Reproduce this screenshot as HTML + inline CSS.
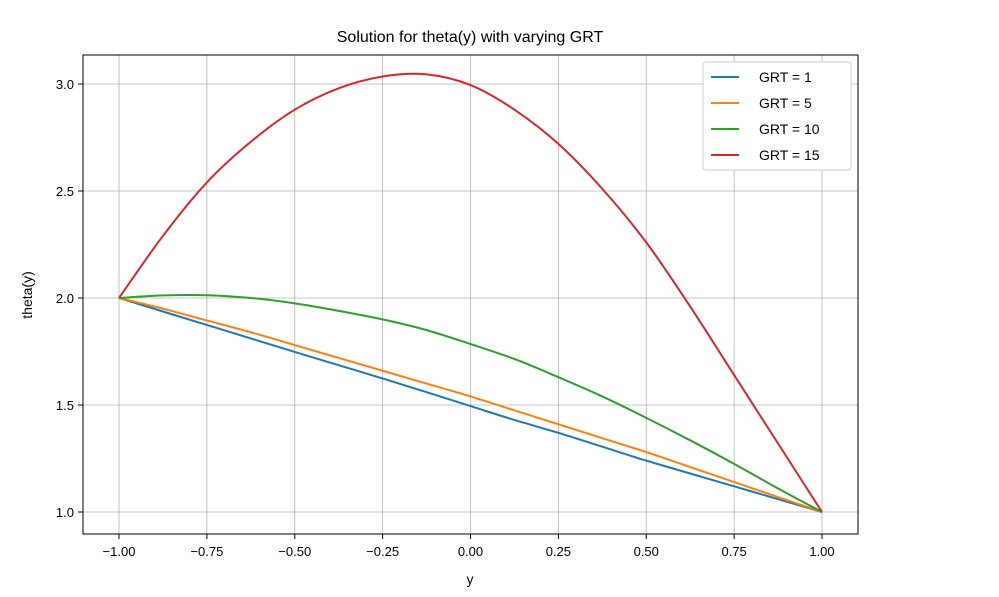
<!DOCTYPE html>
<html><head><meta charset="utf-8"><style>
body{margin:0;background:#fff}
svg text{font-family:"Liberation Sans",sans-serif;fill:#000}
</style></head><body>
<svg width="999" height="592" viewBox="0 0 999 592">
<g id="grid"></g>
<g id="series"></g>
<rect x="83" y="55" width="775" height="479" fill="none" stroke="#000" stroke-width="1"/>
<g id="ticks"></g>
<text x="470" y="42" font-size="16" text-anchor="middle">Solution for theta(y) with varying GRT</text>
<text x="470" y="584" font-size="14" text-anchor="middle">y</text>
<text x="32" y="295" font-size="14" text-anchor="middle" transform="rotate(-90 32 295)">theta(y)</text>
<g id="legend"></g>
</svg>
<script>
const xTicks=[-1,-0.75,-0.5,-0.25,0,0.25,0.5,0.75,1];
const xTickLabels=["−1.00","−0.75","−0.50","−0.25","0.00","0.25","0.50","0.75","1.00"];
const yTicks=[1,1.5,2,2.5,3];
const yTickLabels=["1.0","1.5","2.0","2.5","3.0"];
const seriesNames=["GRT = 1","GRT = 5","GRT = 10","GRT = 15"];
const seriesColors=["#1f77b4","#ff7f0e","#2ca02c","#d62728"];
const xs=[-1,-0.875,-0.75,-0.625,-0.5,-0.375,-0.25,-0.125,0,0.125,0.25,0.375,0.5,0.625,0.75,0.875,1];
const grt1=[2,1.937,1.874,1.811,1.748,1.686,1.624,1.56,1.495,1.43,1.37,1.305,1.24,1.18,1.12,1.06,1];
const grt5=[2,1.95,1.895,1.84,1.78,1.72,1.66,1.6,1.54,1.475,1.41,1.345,1.28,1.21,1.14,1.07,1];
const grt10=[2,2.012,2.013,2.0,1.975,1.94,1.9,1.85,1.785,1.715,1.63,1.54,1.44,1.335,1.225,1.11,1];
const grt15=[2,2.29,2.54,2.73,2.88,2.98,3.035,3.045,2.995,2.88,2.72,2.51,2.26,1.96,1.64,1.32,1];
const series=[grt1,grt5,grt10,grt15];
const X=v=>119+(v+1)*351.5, Y=v=>512-(v-1)*214;
const NS="http://www.w3.org/2000/svg";
function mk(t,a,p){const e=document.createElementNS(NS,t);for(const k in a)e.setAttribute(k,a[k]);p.appendChild(e);return e;}
const grid=document.getElementById('grid'),ticks=document.getElementById('ticks');
xTicks.forEach((v,i)=>{
 const g=mk('line',{x1:X(v),x2:X(v),y1:55,y2:534,stroke:'#b0b0b0','stroke-width':0.8},grid);
 
 const t=mk('line',{x1:X(v),x2:X(v),y1:534,y2:539,stroke:'#000'},ticks);
 
 const l=mk('text',{x:X(v),y:556,'font-size':13,'text-anchor':'middle'},ticks);l.textContent=xTickLabels[i];
 
});
yTicks.forEach((v,i)=>{
 const g=mk('line',{x1:83,x2:858,y1:Y(v),y2:Y(v),stroke:'#b0b0b0','stroke-width':0.8},grid);
 
 const t=mk('line',{x1:78,x2:83,y1:Y(v),y2:Y(v),stroke:'#000'},ticks);
 
 const l=mk('text',{x:74,y:Y(v)+5,'font-size':13,'text-anchor':'end'},ticks);l.textContent=yTickLabels[i];
 
});
function path(vals){
 const p=xs.map((x,i)=>[X(x),Y(vals[i])]);let d='M'+p[0][0]+','+p[0][1];
 for(let i=0;i<p.length-1;i++){const p0=p[i-1]||p[i],p1=p[i],p2=p[i+1],p3=p[i+2]||p[i+1];
  const c1=[p1[0]+(p2[0]-p0[0])/6,p1[1]+(p2[1]-p0[1])/6],c2=[p2[0]-(p3[0]-p1[0])/6,p2[1]-(p3[1]-p1[1])/6];
  d+=`C${c1[0]},${c1[1]} ${c2[0]},${c2[1]} ${p2[0]},${p2[1]}`;}
 return d;}
const sg=document.getElementById('series');
series.forEach((s,i)=>{const e=mk('path',{d:path(s),fill:'none',stroke:seriesColors[i],'stroke-width':2},sg);
 });
const lg=document.getElementById('legend');
const box=mk('rect',{x:703,y:62,width:148,height:108,rx:3,fill:'#fff',stroke:'#ccc'},lg);

seriesNames.forEach((n,i)=>{const y=77+i*26;
 const l=mk('line',{x1:711,x2:739,y1:y,y2:y,stroke:seriesColors[i],'stroke-width':2},lg);
 
 const t=mk('text',{x:759,y:y+5,'font-size':14},lg);t.textContent=n;
 });
</script>
</body></html>
